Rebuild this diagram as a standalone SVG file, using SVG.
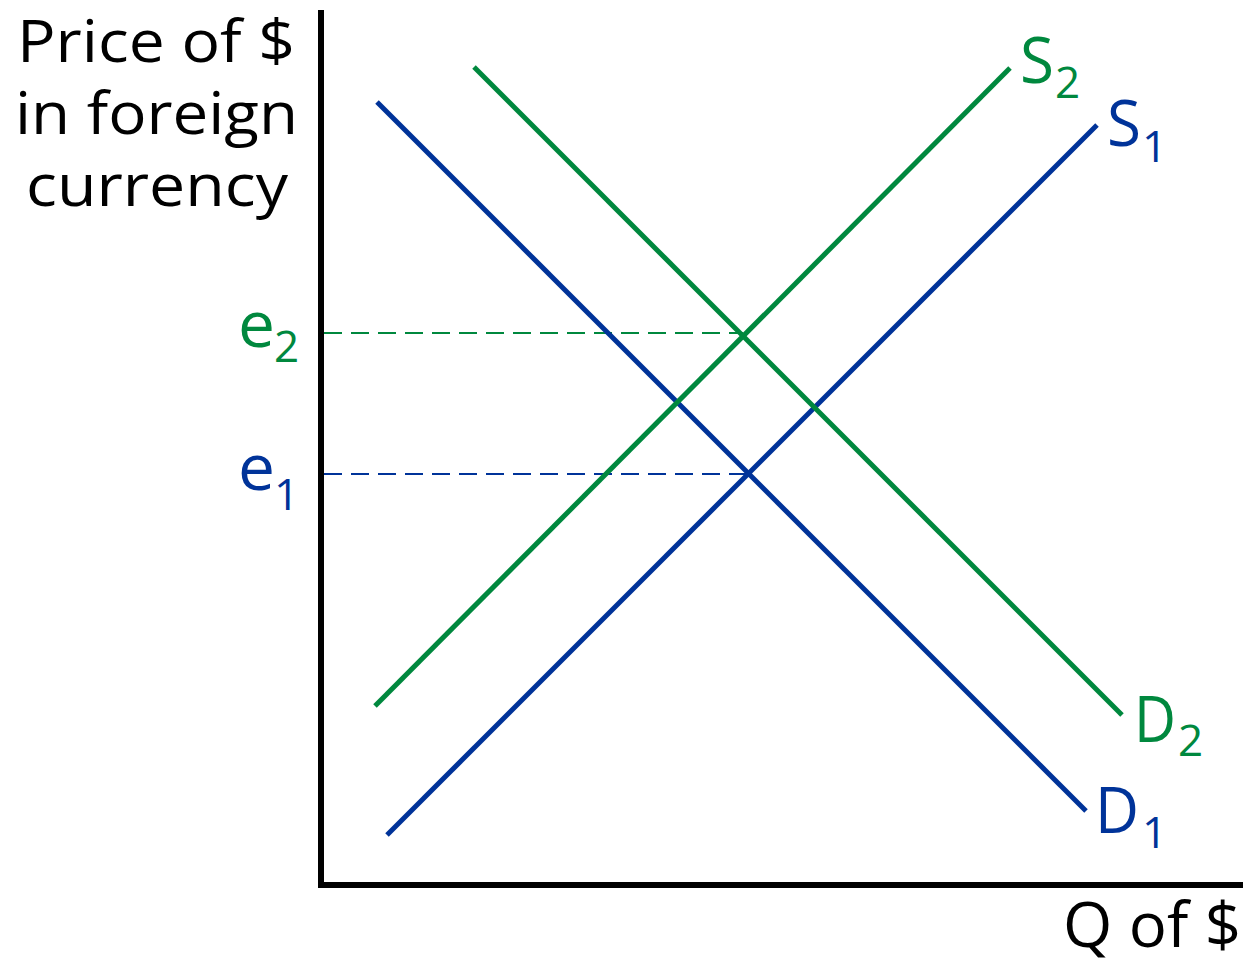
<svg xmlns="http://www.w3.org/2000/svg" width="1243" height="963" viewBox="0 0 1243 963">
<style>
text{font-family:"Open Sans","Noto Sans","Liberation Sans",sans-serif}
.blk{fill:#000}
.blue{fill:#003399}
.green{fill:#00883e}
.lb{stroke:#003399;stroke-width:5;fill:none}
.lg{stroke:#00883e;stroke-width:5;fill:none}
.db{stroke:#003399;stroke-width:2;stroke-dasharray:18,9;fill:none}
.dg{stroke:#00883e;stroke-width:2;stroke-dasharray:18,9;fill:none}
.big{font-size:64px}
.sub{font-size:44px}
</style>
<rect width="1243" height="963" fill="#fff"/>
<g id="axes">
<line x1="321" y1="10" x2="321" y2="888" stroke="#000" stroke-width="6"/>
<line x1="318" y1="885" x2="1243" y2="885" stroke="#000" stroke-width="6"/>
</g>
<g id="connectors">
<line class="dg" x1="324" y1="333" x2="743" y2="333"/>
<line class="db" x1="324" y1="474" x2="748" y2="474"/>
<line id="D1" class="lb" x1="377" y1="102" x2="1086" y2="811"/>
<line id="S1" class="lb" x1="387" y1="835" x2="1097" y2="125"/>
<line id="D2" class="lg" x1="474" y1="67" x2="1122" y2="715"/>
<line id="S2" class="lg" x1="375" y1="706" x2="1010" y2="68"/>
</g>
<g id="ylabel" class="blk">
<text x="17" y="62" font-size="58" textLength="278" lengthAdjust="spacingAndGlyphs">Price of $</text>
<text x="15" y="134" font-size="58" textLength="283" lengthAdjust="spacingAndGlyphs">in foreign</text>
<text x="26" y="206" font-size="58" textLength="262" lengthAdjust="spacingAndGlyphs">currency</text>
</g>
<g id="xlabel" class="blk">
<text x="1063" y="947" font-size="62" textLength="178" lengthAdjust="spacingAndGlyphs">Q of $</text>
</g>
<g id="e2" class="green"><text class="big" x="238" y="347" textLength="37" lengthAdjust="spacingAndGlyphs">e</text><text class="sub" x="274" y="362">2</text></g>
<g id="e1" class="blue"><text class="big" x="238" y="490" textLength="37" lengthAdjust="spacingAndGlyphs">e</text><text class="sub" x="274" y="510">1</text></g>
<g id="S2lbl" class="green"><text class="big" x="1020" y="83" textLength="34" lengthAdjust="spacingAndGlyphs">S</text><text class="sub" x="1055" y="98">2</text></g>
<g id="S1lbl" class="blue"><text class="big" x="1107" y="146" textLength="34" lengthAdjust="spacingAndGlyphs">S</text><text class="sub" x="1142" y="162">1</text></g>
<g id="D2lbl" class="green"><text class="big" x="1134" y="742" textLength="42" lengthAdjust="spacingAndGlyphs">D</text><text class="sub" x="1178" y="756">2</text></g>
<g id="D1lbl" class="blue"><text class="big" x="1095" y="833" textLength="44" lengthAdjust="spacingAndGlyphs">D</text><text class="sub" x="1142" y="848">1</text></g>
</svg>
